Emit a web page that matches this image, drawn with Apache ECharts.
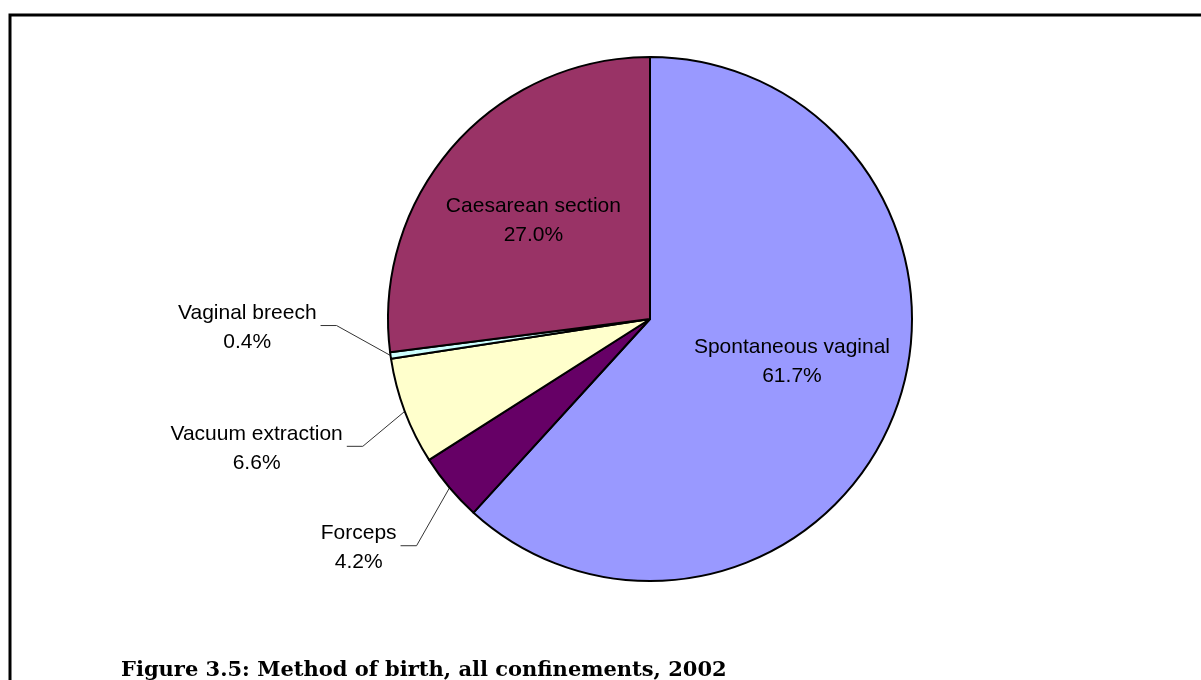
<!DOCTYPE html>
<html>
<head>
<meta charset="utf-8">
<title>Method of birth, all confinements, 2002</title>
<script src="https://cdn.jsdelivr.net/npm/echarts@6/dist/echarts.min.js"></script>
<style>
  html, body { margin: 0; padding: 0; background: #fff; }
  #chart { width: 1201px; height: 680px; }
</style>
</head>
<body>
<div id="chart"></div>
<script>
// Method of birth, all confinements, 2002 (percent of confinements)
const methods = ['Spontaneous vaginal', 'Forceps', 'Vacuum extraction', 'Vaginal breech', 'Caesarean section'];
const shares = [61.7, 4.2, 6.6, 0.4, 27.0];
const sliceColors = ['#9999FF', '#660066', '#FFFFCC', '#CCFFFF', '#993366'];
// which labels sit inside the slice, which ones hang outside on a leader line
const labelInside = [true, false, false, false, true];

// nudges for the labels (inside: dx/dy of text, outside: first leader segment)
const labelNudge = [[17, -6], [-33, 58], [-42, 35], [-54, -30], [-16, -10]];
const leaderTail = 16; // horizontal part of a leader line

const chart = echarts.init(document.getElementById('chart'));

const pieData = methods.map((name, i) => ({
  name: name,
  value: shares[i],
  itemStyle: { color: sliceColors[i] },
  label: { position: labelInside[i] ? 'inside' : 'outside' },
  labelLine: { show: !labelInside[i] }
}));

chart.setOption({
  animation: false,
  title: {
    text: 'Figure 3.5: Method of birth, all confinements, 2002',
    left: 116,
    top: 655,
    textStyle: {
      fontFamily: 'DejaVu Serif',
      fontWeight: 'bold',
      fontSize: 21,
      color: '#000'
    }
  },
  graphic: [
    {
      // chart frame (open on the right and bottom, like the cropped original)
      type: 'polyline',
      shape: { points: [[10, 700], [10, 15], [1215, 15]] },
      style: { stroke: '#000', lineWidth: 3, fill: null }
    }
  ],
  series: [
    {
      name: 'Method of birth',
      type: 'pie',
      center: [650, 319],
      radius: 262,
      startAngle: 90,
      clockwise: true,
      avoidLabelOverlap: false,
      itemStyle: {
        borderColor: '#000',
        borderWidth: 2
      },
      label: {
        fontFamily: 'Liberation Sans',
        fontSize: 21,
        lineHeight: 29,
        color: '#000',
        formatter: (p) => p.name + '\n' + p.value.toFixed(1) + '%'
      },
      labelLine: {
        length: 30,
        length2: leaderTail,
        lineStyle: { color: '#333', width: 1 }
      },
      labelLayout: function (params) {
        const nudge = labelNudge[params.dataIndex];
        if (!params.labelLinePoints) {
          return { dx: nudge[0], dy: nudge[1] };
        }
        const p0 = params.labelLinePoints[0];
        const p1 = [p0[0] + nudge[0], p0[1] + nudge[1]];
        const p2 = [p1[0] - leaderTail, p1[1]];
        return {
          x: p2[0] - 4 - params.labelRect.width / 2,
          y: p2[1] + 2,
          align: 'center',
          verticalAlign: 'middle',
          labelLinePoints: [p0, p1, p2]
        };
      },
      data: pieData
    }
  ]
});
</script>
</body>
</html>
